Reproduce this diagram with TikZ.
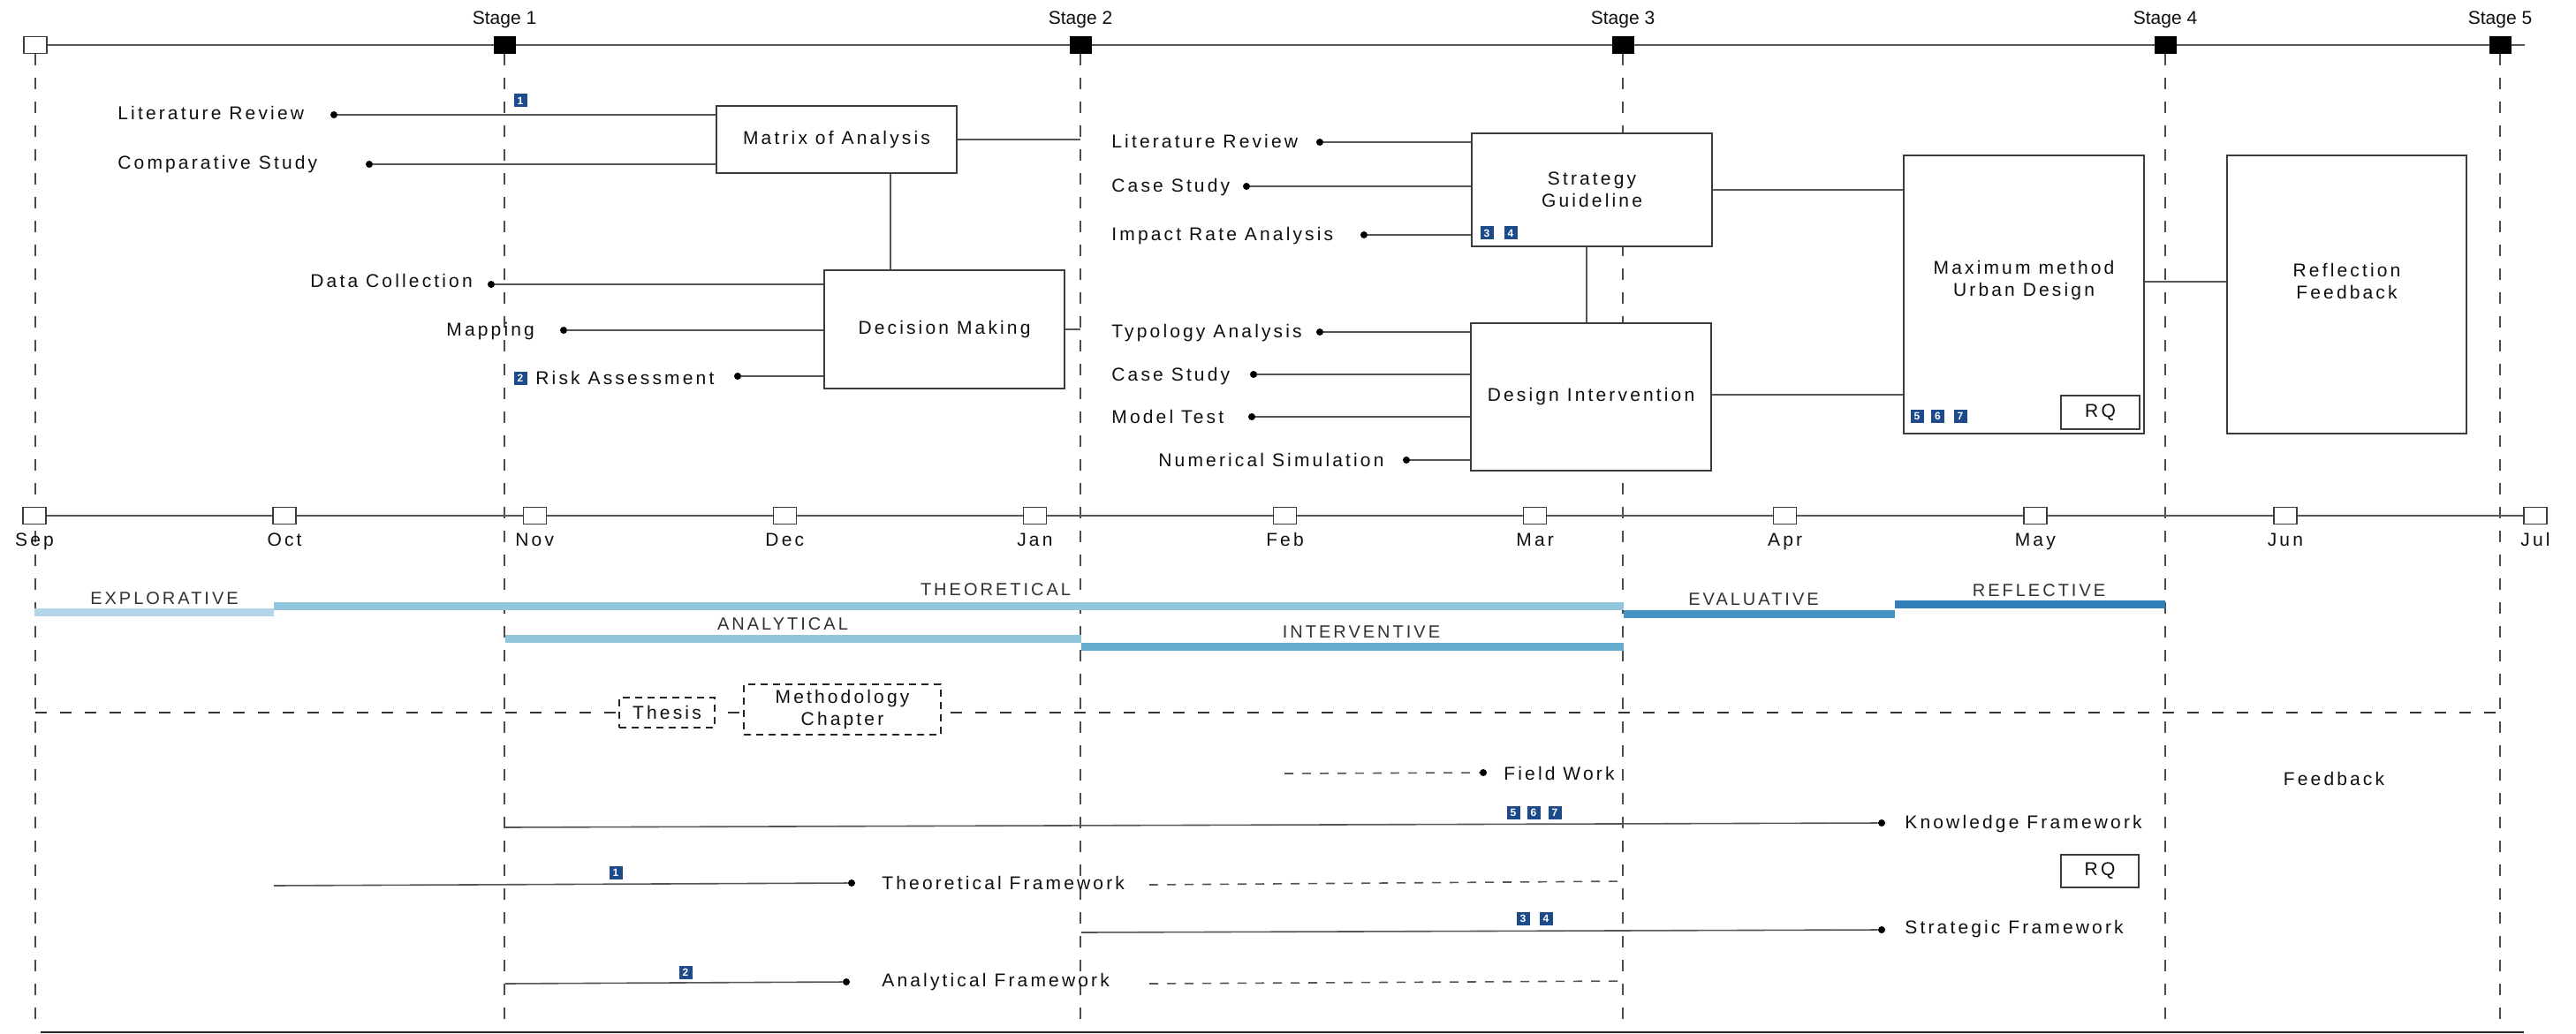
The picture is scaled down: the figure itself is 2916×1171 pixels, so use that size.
\documentclass[tikz,border=0pt]{standalone}
\usepackage{fontspec}
\setmainfont{Liberation Sans}[LetterSpace=15]
\newfontfamily\plainfont{Liberation Sans}
\usetikzlibrary{backgrounds}
\definecolor{badgec}{RGB}{28,74,138}
\definecolor{cexp}{RGB}{179,215,232}
\definecolor{ctheo}{RGB}{146,198,221}
\definecolor{cint}{RGB}{104,172,208}
\definecolor{ceval}{RGB}{67,147,195}
\definecolor{crefl}{RGB}{49,127,185}
\definecolor{ln}{RGB}{85,85,85}
\definecolor{boxc}{RGB}{60,60,60}
\definecolor{txt}{RGB}{15,15,15}
\definecolor{phasetxt}{RGB}{50,50,50}
\tikzset{
  every node/.style={font=\fontsize{10.5}{12.5}\selectfont, text=txt},
  lab/.style={anchor=base west, inner sep=0},
  clab/.style={anchor=base, inner sep=0},
  phase/.style={anchor=base, inner sep=0, text=phasetxt, font=\fontsize{10}{12}\selectfont},
  box/.style={draw=boxc, line width=0.8pt, fill=white, inner sep=0, align=center},
  dbox/.style={draw=black!85, line width=0.7pt, dash pattern=on 4pt off 3pt, fill=white, inner sep=0, align=center},
  stagelab/.style={anchor=base, inner sep=0, font=\plainfont\fontsize{10.5}{12}\selectfont},
  sqo/.style={draw=boxc, fill=white, line width=0.7pt, minimum width=13pt, minimum height=9.5pt, inner sep=0},
  sqf/.style={draw=black, fill=black, minimum width=12pt, minimum height=9.5pt, inner sep=0},
  dot/.style={circle, fill=black, minimum size=4pt, inner sep=0},
  badge/.style={fill=badgec, text=white, font=\plainfont\bfseries\fontsize{6}{6}\selectfont, minimum width=7.5pt, minimum height=7.5pt, inner sep=0},
  conn/.style={draw=ln, line width=0.8pt},
  vdash/.style={draw=black!70, line width=0.6pt, dash pattern=on 6.5pt off 7pt},
  hdash/.style={draw=black!80, line width=0.7pt, dash pattern=on 6.5pt off 7.5pt},
  sdash/.style={draw=ln, line width=0.8pt, dash pattern=on 5pt off 5pt},
}
\begin{document}
\begin{tikzpicture}[x=0.5pt,y=-0.5pt]
\useasboundingbox (0,0) rectangle (2916,1171);

% ---------- top axis ----------
\node[sqo] (t0) at (40,51) {};
\node[sqf] (s1) at (571,51) {};
\node[sqf] (s2) at (1223,51) {};
\node[sqf] (s3) at (1837,51) {};
\node[sqf] (s4) at (2451,51) {};
\node[sqf] (s5) at (2830,51) {};
\coordinate (tend) at (2858,51);
\node[stagelab] (sl1) at (571,28) {Stage 1};
\node[stagelab] (sl2) at (1223,28) {Stage 2};
\node[stagelab] (sl3) at (1837,28) {Stage 3};
\node[stagelab] (sl4) at (2451,28) {Stage 4};
\node[stagelab] (sl5) at (2830,28) {Stage 5};
\coordinate (bot) at (0,1168);
\coordinate (bl) at (46,1169);
\coordinate (br) at (2857,1169);

% ---------- month axis ----------
\foreach \m [count=\i from 0] in {Sep,Oct,Nov,Dec,Jan,Feb,Mar,Apr,May,Jun,Jul}{
  \node[sqo] (m\i) at ({39+283.1*\i},584) {};
  \node[clab] (ml\i) at ({39+283.1*\i},618) {\m};
}

% ---------- upper boxes ----------
\node[box, minimum width=136pt, minimum height=38pt] (mx) at (947,158) {Matrix of Analysis};
\node[box, minimum width=136pt, minimum height=67pt] (dm) at (1069,373) {Decision Making};
\node[box, minimum width=136pt, minimum height=64pt] (sg) at (1802,215) {Strategy\\Guideline};
\node[box, minimum width=136pt, minimum height=83.5pt] (di) at (1801,449.5) {Design Intervention};
\node[box, minimum width=136pt, minimum height=157.5pt] (mu) at (2291,333.5) {};
\node[box, minimum width=135.5pt, minimum height=157.5pt] (rf) at (2656.5,333.5) {};
\node[align=center, inner sep=0] (mut) at (2291,318) {Maximum method\\Urban Design};
\node[align=center, inner sep=0] (rft) at (2656.5,318) {Reflection\\Feedback};
\node[box, minimum width=44.5pt, minimum height=19pt] (rq1) at (2377.5,467) {RQ};

% upper-left labels
\node[lab] (l1) at (133,136) {Literature Review};
\node[lab] (l2) at (133,192) {Comparative Study};
\node[lab] (l3) at (351,326) {Data Collection};
\node[lab] (l4) at (505,380) {Mapping};
\node[lab] (l5) at (606,435) {Risk Assessment};
\node[dot] (d1) at (378,130) {};
\node[dot] (d2) at (418,186) {};
\node[dot] (d3) at (556,322) {};
\node[dot] (d4) at (638,374) {};
\node[dot] (d5) at (835,426) {};

% upper-right labels
\node[lab] (r1) at (1258,168) {Literature Review};
\node[lab] (r2) at (1258,218) {Case Study};
\node[lab] (r3) at (1258,273) {Impact Rate Analysis};
\node[lab] (r4) at (1258,383) {Typology Analysis};
\node[lab] (r5) at (1258,431) {Case Study};
\node[lab] (r6) at (1258,479) {Model Test};
\node[lab] (r7) at (1311,528) {Numerical Simulation};
\node[dot] (e1) at (1494,161) {};
\node[dot] (e2) at (1411,211) {};
\node[dot] (e3) at (1544,266) {};
\node[dot] (e4) at (1494,376) {};
\node[dot] (e5) at (1419,424) {};
\node[dot] (e6) at (1417,472) {};
\node[dot] (e7) at (1592,521) {};

% badges upper
\node[badge] (ba1) at (589,114) {1};
\node[badge] (ba2) at (589,428) {2};
\node[badge] (ba3) at (1683,264) {3};
\node[badge] (ba4) at (1710,264) {4};
\node[badge] (ba5) at (2170,471.5) {5};
\node[badge] (ba6) at (2193.5,471.5) {6};
\node[badge] (ba7) at (2219,471.5) {7};

\coordinate (mxd) at (1008,0);
\coordinate (sgd) at (1796,0);
\coordinate (ry) at (0,319);
\coordinate (dy) at (0,447);

% ---------- phases ----------
\fill[cexp] (39,689) rectangle (310,698);
\fill[ctheo] (310,682) rectangle (1838,691);
\fill[ctheo] (572,719) rectangle (1224,728);
\fill[cint] (1224,728) rectangle (1838,737);
\fill[ceval] (1838,691) rectangle (2145,700);
\fill[crefl] (2145,680) rectangle (2451,689);
\node[phase] (p1) at (186,684) {EXPLORATIVE};
\node[phase] (p2) at (1127,674) {THEORETICAL};
\node[phase] (p3) at (886,713) {ANALYTICAL};
\node[phase] (p4) at (1541,722) {INTERVENTIVE};
\node[phase] (p5) at (1985,685) {EVALUATIVE};
\node[phase] (p6) at (2308,675) {REFLECTIVE};

% ---------- thesis ----------
\coordinate (hl) at (40,807);
\coordinate (hr) at (2826,807);
\node[dbox, minimum width=54pt, minimum height=17pt] (th) at (755,807) {Thesis};
\node[dbox, minimum width=111.5pt, minimum height=28.5pt] (mc) at (953.5,803.5) {Methodology\\Chapter};

% ---------- lower section ----------
\node[lab] (fwl) at (1702,883) {Field Work};
\node[lab] (kfl) at (2156,938) {Knowledge Framework};
\node[lab] (tfl) at (998,1007) {Theoretical Framework};
\node[lab] (sfl) at (2156,1057) {Strategic Framework};
\node[lab] (afl) at (998,1117) {Analytical Framework};
\node[clab] (fbl) at (2642,889) {Feedback};
\node[box, minimum width=44pt, minimum height=18.5pt] (rq2) at (2377,986.5) {RQ};
\node[dot] (dfw) at (1679,875) {};
\node[dot] (dkf) at (2130,932) {};
\node[dot] (dtf) at (964,1000) {};
\node[dot] (dsf) at (2130,1053) {};
\node[dot] (daf) at (958,1112) {};
\coordinate (fw0) at (1454,876);
\coordinate (kf0) at (572,937);
\coordinate (tf0) at (310,1003);
\coordinate (tfa) at (1301,1002);
\coordinate (tfb) at (1838,998);
\coordinate (sf0) at (1224,1056);
\coordinate (af0) at (572,1114);
\coordinate (afa) at (1301,1114);
\coordinate (afb) at (1838,1111);
\node[badge] (bb1) at (697,988) {1};
\node[badge] (bb2) at (776,1101) {2};
\node[badge] (bb5) at (1713,920) {5};
\node[badge] (bb6) at (1736,920) {6};
\node[badge] (bb7) at (1760,920) {7};
\node[badge] (bb3) at (1724,1040) {3};
\node[badge] (bb4) at (1750,1040) {4};

% ---------- lines on background ----------
\begin{scope}[on background layer]
  \foreach \n in {t0,s1,s2,s3,s4,s5}{
    \draw[vdash] (\n.south) -- (\n |- bot);
  }
  \draw[conn] (t0) -- (tend);
  \draw[conn] (m0) -- (m10);
  \draw[draw=black!85, line width=1pt] (bl) -- (br);
  \draw[hdash] (hl) -- (hr);
  % upper left
  \draw[conn] (d1) -- (d1 -| mx.west);
  \draw[conn] (d2) -- (d2 -| mx.west);
  \draw[conn] (d3) -- (d3 -| dm.west);
  \draw[conn] (d4) -- (d4 -| dm.west);
  \draw[conn] (d5) -- (d5 -| dm.west);
  \draw[conn] (mx.east) -- (mx.east -| s2);
  \draw[conn] (mx.south -| mxd) -- (dm.north -| mxd);
  \draw[conn] (dm.east) -- (dm.east -| s2);
  % upper right
  \draw[conn] (e1) -- (e1 -| sg.west);
  \draw[conn] (e2) -- (e2 -| sg.west);
  \draw[conn] (e3) -- (e3 -| sg.west);
  \draw[conn] (e4) -- (e4 -| di.west);
  \draw[conn] (e5) -- (e5 -| di.west);
  \draw[conn] (e6) -- (e6 -| di.west);
  \draw[conn] (e7) -- (e7 -| di.west);
  \draw[conn] (sg.south -| sgd) -- (di.north -| sgd);
  \draw[conn] (sg.east) -- (sg.east -| mu.west);
  \draw[conn] (di.east |- dy) -- (mu.west |- dy);
  \draw[conn] (mu.east |- ry) -- (rf.west |- ry);
  % lower
  \draw[sdash] (fw0) -- (dfw);
  \draw[conn] (kf0) -- (dkf);
  \draw[conn] (tf0) -- (dtf);
  \draw[sdash] (tfa) -- (tfb);
  \draw[conn] (sf0) -- (dsf);
  \draw[conn] (af0) -- (daf);
  \draw[sdash] (afa) -- (afb);
\end{scope}
\end{tikzpicture}
\end{document}
